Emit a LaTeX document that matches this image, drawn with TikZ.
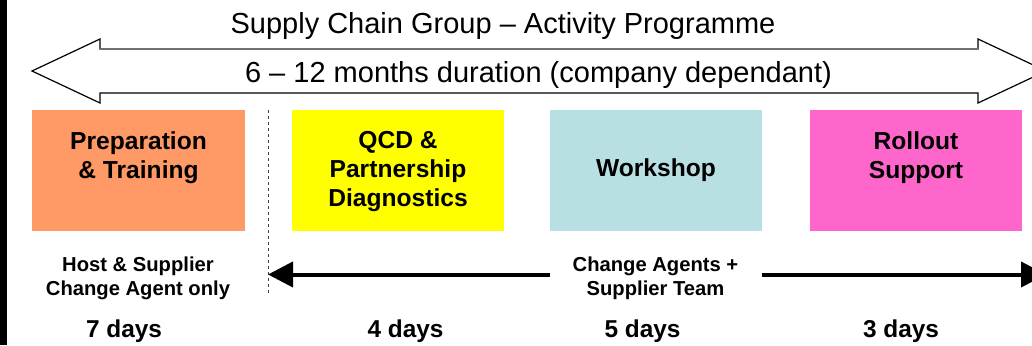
\documentclass[tikz,border=0pt]{standalone}
\usepackage{fontspec}
\setmainfont{Liberation Sans}
\usetikzlibrary{arrows.meta}
\definecolor{prepcol}{HTML}{FF9966}
\definecolor{qcdcol}{HTML}{FFFF00}
\definecolor{wscol}{HTML}{B8E0E3}
\definecolor{rollcol}{HTML}{FF66CC}
\definecolor{shaftgray}{HTML}{707070}
\tikzset{
  phase/.style={rectangle, minimum width=212pt, minimum height=121pt, inner sep=0pt, draw=none},
  boxtext/.style={font=\fontsize{24.6}{29}\selectfont\bfseries, align=center, inner sep=0pt},
  smalltext/.style={font=\fontsize{20.2}{24.3}\selectfont\bfseries, align=center, inner sep=0pt},
  daytext/.style={font=\fontsize{24.4}{29}\selectfont\bfseries, inner sep=0pt, anchor=base},
  bigtext/.style={font=\fontsize{29}{34}\selectfont, inner sep=0pt, anchor=base},
  teamarrow/.style={line width=4pt, -{Triangle[length=25pt,width=25pt]}},
}
\begin{document}
\begin{tikzpicture}[x=1pt,y=-1pt]
\useasboundingbox (0,0) rectangle (1032,345);
\clip (0,0) rectangle (1032,345);
\fill[white] (0,0) rectangle (1032,345);
\fill[black] (0,0) rectangle (7,345);

% big double arrow
\draw[line width=1.2pt, line join=miter] (32,71) -- (100,39) -- (100,49) -- (978,49) -- (978,39)
  -- (1046,71) -- (978,103) -- (978,93) -- (100,93) -- (100,103) -- cycle;
\draw[shaftgray, line width=2pt] (100,49) -- (978,49);

\node[bigtext] (title) at (503,34) {Supply Chain Group – Activity Programme};
\node[bigtext] (dur) at (538.5,82) {6 – 12 months duration (company dependant)};

% phase boxes
\node[phase, fill=prepcol, minimum width=213pt] (prep) at (138.5,170.5) {};
\node[phase, fill=qcdcol] (qcd) at (398,170.5) {};
\node[phase, fill=wscol] (ws) at (656,170.5) {};
\node[phase, fill=rollcol] (roll) at (916,170.5) {};

\node[boxtext, anchor=north] (prept) at (138.5,131.5) {Preparation\\\& Training};
\node[boxtext, anchor=north] (qcdt) at (398,131.5) {QCD \&\\Partnership\\Diagnostics};
\node[boxtext] (wst) at (ws.center) {Workshop};
\node[boxtext, anchor=north] (rollt) at (916,131.5) {Rollout\\Support};

% dashed divider
\coordinate (dT) at (268,110);
\coordinate (dB) at (268,295);
\draw[black!75, line width=0.8pt, dash pattern=on 3pt off 3pt] (dT) -- (dB);

% team arrow
\coordinate (aL) at (268,274.5);
\coordinate (aR) at (1046,274.5);
\node[smalltext, anchor=north] (host) at (138,256.3) {Host \& Supplier\\Change Agent only};
\node[smalltext, anchor=north] (team) at (655.5,256.6) {Change Agents +\\Supplier Team};
\draw[teamarrow] (ws.west |- aL) -- (aL);
\draw[teamarrow] (ws.east |- aR) -- (aR);

% durations
\node[daytext] (d1) at (124,337) {7 days};
\node[daytext] (d2) at (405.5,337) {4 days};
\node[daytext] (d3) at (642.5,337) {5 days};
\node[daytext] (d4) at (901,337) {3 days};
\end{tikzpicture}
\end{document}
